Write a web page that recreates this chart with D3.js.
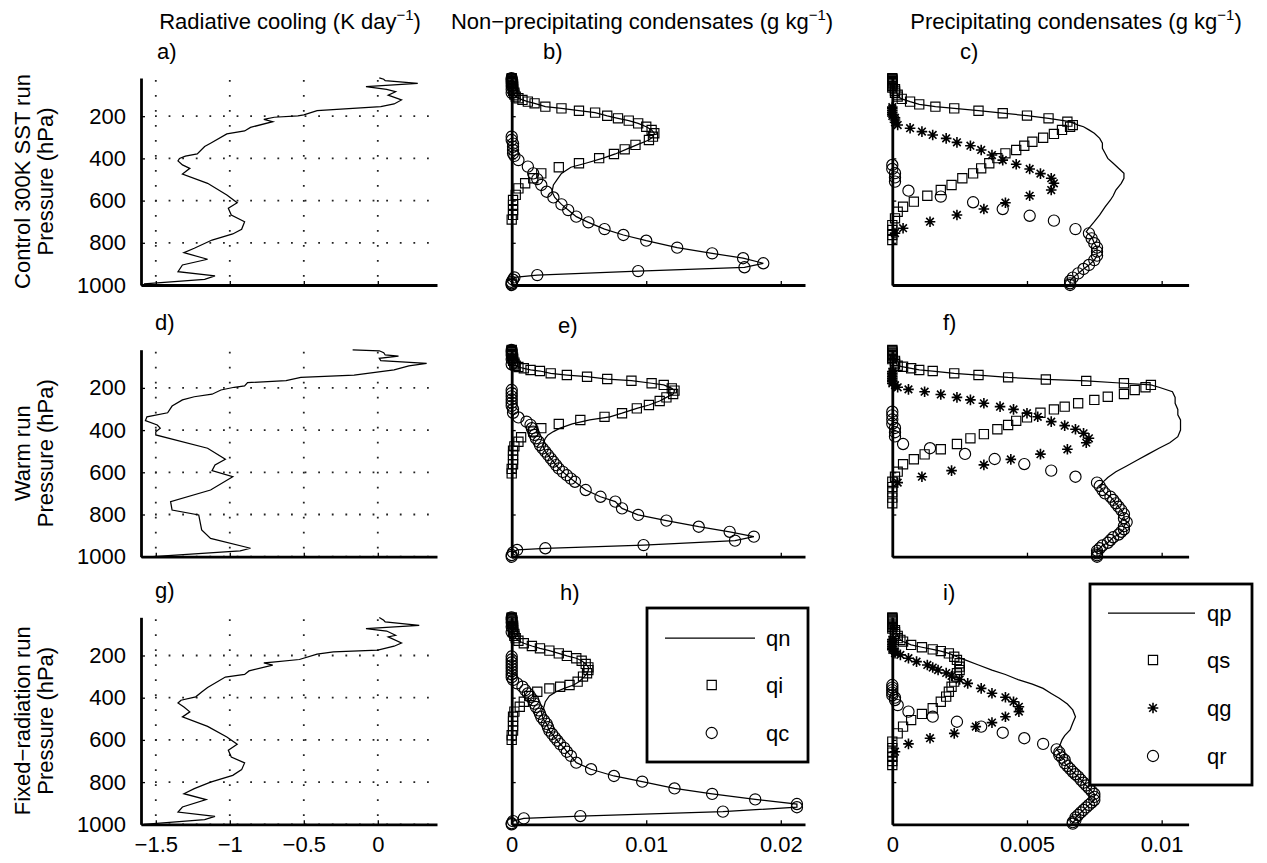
<!DOCTYPE html>
<html><head><meta charset="utf-8">
<script src="https://cdn.jsdelivr.net/npm/d3@7"></script>
<style>
body{margin:0;background:#fff;}
text{font-family:"Liberation Sans",Arial,Helvetica,sans-serif;fill:#000;}
</style></head><body>
<svg id="fig" width="1267" height="863"></svg>
<script>
// ---- axis ticks and labels ----
const pressureTicks = [200, 400, 600, 800, 1000];
const coolTicks = [-1.5, -1, -0.5, 0];
const coolTickLabels = ["\u22121.5", "\u22121", "\u22120.5", "0"];
const nonPrecipTicks = [0, 0.01, 0.02];
const nonPrecipTickLabels = ["0", "0.01", "0.02"];
const precipTicks = [0, 0.005, 0.01];
const precipTickLabels = ["0", "0.005", "0.01"];
const rowNames = ["Control 300K SST run", "Warm run", "Fixed\u2212radiation run"];
const panelLetters = [["a)", "b)", "c)"], ["d)", "e)", "f)"], ["g)", "h)", "i)"]];

// ---- profiles: [pressure hPa, value] ----
// radiative cooling (K/day)
const coolControl = [[18,0.01],[25,0.04],[32,0.05],[44,0.27],[60,-0.08],[73,0.06],[84,0.12],[100,0.07],[123,0.16],[142,0.11],[155,0.02],[167,-0.25],[174,-0.41],[194,-0.50],[199,-0.54],[205,-0.70],[215,-0.77],[226,-0.71],[253,-0.86],[270,-0.90],[284,-1.02],[328,-1.13],[344,-1.17],[379,-1.22],[389,-1.30],[400,-1.34],[412,-1.35],[431,-1.32],[447,-1.27],[474,-1.32],[518,-1.15],[573,-1.02],[610,-0.95],[636,-1.01],[668,-0.99],[700,-0.90],[736,-0.92],[758,-0.98],[787,-1.12],[826,-1.24],[847,-1.31],[878,-1.15],[905,-1.32],[937,-1.35],[957,-1.10],[973,-1.17],[995,-1.58]];
const coolWarm = [[20,-0.17],[24,0.01],[33,0.04],[44,0.05],[49,0.14],[60,0.01],[71,0.02],[84,0.33],[96,0.21],[115,0.11],[139,-0.16],[150,-0.52],[166,-0.62],[175,-0.88],[191,-0.90],[197,-0.97],[210,-1.06],[230,-1.12],[242,-1.24],[257,-1.32],[286,-1.39],[318,-1.42],[337,-1.56],[355,-1.57],[376,-1.49],[391,-1.47],[408,-1.50],[423,-1.50],[486,-1.15],[538,-1.03],[565,-1.10],[592,-1.12],[621,-0.98],[684,-1.13],[739,-1.40],[779,-1.39],[802,-1.21],[873,-1.19],[913,-1.13],[960,-0.86],[972,-0.93],[1000,-1.52]];
const coolFixed = [[20,0.01],[33,0.04],[41,0.05],[57,0.28],[73,-0.08],[84,0.06],[104,0.12],[112,0.07],[141,0.16],[156,0.11],[175,0.00],[183,-0.30],[194,-0.41],[219,-0.53],[231,-0.71],[235,-0.77],[246,-0.71],[273,-0.87],[290,-0.90],[302,-1.03],[352,-1.15],[373,-1.19],[396,-1.23],[412,-1.33],[425,-1.35],[444,-1.31],[467,-1.27],[491,-1.32],[536,-1.15],[586,-1.02],[621,-0.95],[649,-1.01],[681,-0.99],[709,-0.90],[741,-0.92],[768,-0.98],[800,-1.13],[831,-1.24],[855,-1.31],[883,-1.16],[918,-1.32],[942,-1.35],[962,-1.10],[978,-1.17],[1000,-1.58]];

// non-precipitating condensates (g/kg): qn total, qi ice, qc cloud water
const qnControl = [[20,0],[50,0.0001],[80,0.0001],[98,0.0002],[115,0.0005],[123,0.0008],[131,0.0012],[139,0.0017],[155,0.0025],[163,0.0037],[174,0.0050],[183,0.0062],[198,0.0071],[210,0.0079],[221,0.0087],[234,0.0094],[250,0.0100],[265,0.0104],[281,0.0106],[297,0.0105],[313,0.0102],[336,0.0093],[357,0.0085],[379,0.0077],[399,0.0068],[423,0.0055],[442,0.0044],[471,0.0037],[498,0.0034],[526,0.0031],[558,0.0030],[585,0.0032],[618,0.0037],[645,0.0042],[676,0.0048],[703,0.0057],[735,0.0069],[763,0.0083],[790,0.0100],[823,0.0123],[850,0.0149],[873,0.0172],[897,0.0187],[916,0.0173],[934,0.0094],[953,0.0019],[964,0.0002],[985,0],[1000,0]];
const qiControl = [[20,0],[23,0],[26,0],[30,0],[34,0],[39,0],[44,0],[50,0.0001],[57,0.0001],[64,0.0001],[72,0.0001],[80,0.0001],[89,0.0002],[98,0.0002],[107,0.0003],[115,0.0005],[123,0.0008],[131,0.0012],[139,0.0017],[155,0.0025],[163,0.0037],[174,0.0050],[183,0.0062],[198,0.0071],[210,0.0079],[221,0.0087],[234,0.0094],[250,0.0100],[265,0.0104],[281,0.0106],[297,0.0105],[313,0.0102],[336,0.0092],[357,0.0084],[379,0.0076],[399,0.0065],[423,0.0050],[442,0.0035],[471,0.0022],[494,0.0016],[518,0.0010],[542,0.0005],[573,0.0003],[597,0.0001],[620,0.0001],[645,0.0001],[668,0.0001],[690,0]];
const qcControl = [[20,0],[26,0],[34,0],[44,0],[57,0],[72,0],[89,0],[297,0],[313,0],[330,0.0001],[345,0.0001],[360,0.0001],[376,0.0001],[388,0.0002],[408,0.0005],[439,0.0012],[471,0.0016],[498,0.0019],[526,0.0022],[558,0.0026],[585,0.0031],[618,0.0037],[645,0.0042],[676,0.0048],[703,0.0057],[735,0.0069],[763,0.0083],[790,0.0100],[823,0.0123],[850,0.0149],[873,0.0172],[897,0.0187],[916,0.0173],[934,0.0094],[953,0.0019],[964,0.0002],[975,0.0001],[985,0],[992,0],[997,0],[1000,0]];

const qnWarm = [[20,0],[57,0.0001],[80,0.0002],[95,0.0003],[101,0.0005],[107,0.0009],[115,0.0014],[120,0.0021],[131,0.0029],[139,0.0041],[147,0.0056],[158,0.0071],[166,0.0089],[178,0.0104],[186,0.0113],[202,0.0119],[213,0.0121],[229,0.0120],[245,0.0115],[262,0.0110],[281,0.0102],[297,0.0093],[320,0.0082],[337,0.0073],[352,0.0058],[371,0.0045],[391,0.0036],[407,0.0031],[423,0.0027],[439,0.0025],[455,0.0024],[471,0.0023],[487,0.0024],[502,0.0025],[518,0.0027],[534,0.0029],[550,0.0031],[566,0.0033],[582,0.0035],[598,0.0038],[614,0.0041],[630,0.0044],[645,0.0047],[684,0.0055],[716,0.0066],[739,0.0077],[771,0.0082],[802,0.0094],[829,0.0115],[858,0.0139],[882,0.0162],[905,0.0180],[924,0.0166],[945,0.0098],[960,0.0025],[968,0.0004],[980,0.0001],[1000,0]];
const qiWarm = [[20,0],[23,0],[26,0],[30,0],[34,0],[39,0],[44,0],[50,0],[57,0.0001],[64,0.0001],[72,0.0001],[80,0.0002],[88,0.0002],[95,0.0003],[101,0.0005],[107,0.0009],[115,0.0014],[120,0.0021],[131,0.0029],[139,0.0041],[147,0.0056],[158,0.0071],[166,0.0089],[178,0.0104],[186,0.0113],[202,0.0119],[213,0.0121],[229,0.0120],[245,0.0115],[262,0.0110],[281,0.0102],[297,0.0093],[320,0.0082],[337,0.0069],[352,0.0051],[371,0.0035],[391,0.0022],[407,0.0016],[434,0.0007],[455,0.0005],[477,0.0002],[497,0.0001],[518,0.0001],[540,0.0001],[562,0.0001],[584,0],[605,0]];
const qcWarm = [[20,0],[30,0],[44,0],[64,0],[88,0],[210,0],[225,0],[240,0],[255,0],[270,0],[285,0],[300,0.0001],[318,0.0001],[340,0.0005],[360,0.0011],[375,0.0014],[391,0.0015],[407,0.0016],[423,0.0017],[439,0.0018],[455,0.0020],[471,0.0021],[487,0.0023],[502,0.0025],[518,0.0027],[534,0.0029],[550,0.0031],[566,0.0033],[582,0.0035],[598,0.0038],[614,0.0041],[630,0.0044],[645,0.0047],[684,0.0055],[716,0.0066],[739,0.0077],[771,0.0082],[802,0.0094],[829,0.0115],[858,0.0139],[882,0.0162],[905,0.0180],[924,0.0166],[945,0.0098],[960,0.0025],[968,0.0004],[980,0.0001],[992,0],[1000,0]];

const qnFixed = [[20,0],[57,0.0001],[98,0.0002],[118,0.0003],[130,0.0005],[142,0.0009],[155,0.0015],[166,0.0021],[177,0.0028],[190,0.0035],[202,0.0041],[213,0.0048],[225,0.0052],[240,0.0055],[256,0.0057],[269,0.0057],[284,0.0056],[300,0.0054],[324,0.0050],[340,0.0046],[356,0.0039],[372,0.0033],[392,0.0028],[419,0.0025],[443,0.0024],[466,0.0022],[492,0.0023],[508,0.0024],[524,0.0026],[540,0.0027],[556,0.0028],[572,0.0030],[588,0.0032],[604,0.0034],[620,0.0036],[638,0.0039],[656,0.0041],[676,0.0044],[708,0.0048],[739,0.0059],[771,0.0076],[798,0.0097],[830,0.0121],[856,0.0149],[882,0.0181],[904,0.0212],[919,0.0212],[940,0.0157],[961,0.0051],[972,0.0009],[985,0.0001],[1000,0]];
const qiFixed = [[20,0],[23,0],[26,0],[30,0],[34,0],[39,0],[44,0],[50,0],[57,0.0001],[64,0.0001],[72,0.0001],[80,0.0001],[89,0.0001],[98,0.0002],[107,0.0002],[118,0.0003],[130,0.0005],[142,0.0009],[155,0.0015],[166,0.0021],[177,0.0028],[190,0.0035],[202,0.0041],[213,0.0048],[225,0.0052],[240,0.0055],[256,0.0057],[269,0.0057],[284,0.0056],[300,0.0053],[324,0.0049],[340,0.0043],[348,0.0036],[356,0.0028],[372,0.0019],[392,0.0013],[419,0.0009],[443,0.0006],[466,0.0002],[490,0.0001],[512,0.0001],[534,0.0001],[556,0.0001],[578,0],[600,0]];
const qcFixed = [[20,0],[30,0],[44,0],[64,0],[89,0],[205,0],[219,0],[233,0],[247,0],[261,0],[275,0],[289,0],[303,0],[316,0.0001],[332,0.0004],[348,0.0008],[364,0.0010],[380,0.0012],[396,0.0014],[412,0.0016],[428,0.0017],[444,0.0018],[460,0.0020],[476,0.0021],[492,0.0022],[508,0.0024],[524,0.0026],[540,0.0027],[556,0.0028],[572,0.0030],[588,0.0032],[604,0.0034],[620,0.0036],[638,0.0039],[656,0.0041],[676,0.0044],[708,0.0048],[739,0.0059],[771,0.0076],[798,0.0097],[830,0.0121],[856,0.0149],[882,0.0181],[904,0.0212],[919,0.0212],[940,0.0157],[961,0.0051],[972,0.0009],[985,0.0001],[995,0],[1000,0]];

// precipitating condensates (g/kg): qp total, qs snow, qg graupel, qr rain
const qpControl = [[20,0],[72,0.0001],[98,0.0002],[107,0.0002],[118,0.00035],[131,0.00066],[144,0.0010],[155,0.0016],[163,0.0023],[174,0.0032],[186,0.0041],[197,0.0050],[210,0.0058],[226,0.0066],[242,0.0069],[250,0.0071],[265,0.0073],[281,0.0075],[305,0.0077],[328,0.0078],[352,0.0078],[376,0.0079],[400,0.0080],[423,0.0082],[447,0.0084],[471,0.0086],[494,0.0086],[518,0.0085],[550,0.0083],[577,0.0082],[597,0.0081],[630,0.0079],[668,0.0077],[700,0.0075],[730,0.0073],[747,0.0072],[771,0.0074],[802,0.0075],[823,0.0076],[842,0.0076],[861,0.0076],[882,0.0075],[905,0.0073],[924,0.0071],[945,0.0069],[965,0.0067],[981,0.0066],[992,0.0066],[1000,0.0066]];
const qsControl = [[20,0],[23,0],[26,0],[30,0],[34,0],[39,0],[44,0],[50,0],[57,0],[64,0],[72,0.0001],[80,0.0001],[89,0.0001],[98,0.0002],[107,0.0002],[118,0.00035],[131,0.00066],[144,0.0010],[155,0.0016],[163,0.0023],[174,0.0032],[186,0.0041],[197,0.0050],[210,0.0058],[226,0.0065],[242,0.0067],[250,0.0066],[265,0.0063],[284,0.0060],[302,0.0056],[321,0.0052],[340,0.0049],[360,0.0046],[376,0.0042],[399,0.0039],[423,0.0036],[447,0.0033],[471,0.0030],[494,0.0026],[526,0.0022],[550,0.0018],[577,0.0013],[605,0.0008],[629,0.0004],[653,0.0002],[684,0.0001],[716,0],[739,0],[763,0],[787,0]];
const qgControl = [[157,0],[165,0],[173,0],[181,0],[190,0],[199,0],[208,0.0001],[218,0.0001],[229,0.0001],[242,0.0002],[257,0.00066],[273,0.0011],[289,0.0015],[305,0.0020],[324,0.0024],[340,0.0029],[360,0.0033],[384,0.0037],[408,0.0041],[428,0.0046],[450,0.0051],[472,0.0055],[494,0.0059],[518,0.0060],[550,0.0059],[577,0.0051],[610,0.0042],[640,0.0034],[668,0.0024],[700,0.0014],[731,0.0004],[754,0.0001]];
const qrControl = [[431,0],[450,0],[470,0.0001],[490,0.0001],[510,0.0001],[553,0.0006],[581,0.0018],[608,0.0030],[640,0.0041],[672,0.0051],[695,0.0060],[735,0.0068],[755,0.0073],[779,0.0074],[802,0.0075],[823,0.0076],[842,0.0076],[861,0.0076],[882,0.0075],[905,0.0073],[924,0.0071],[945,0.0069],[965,0.0067],[981,0.0066],[992,0.0066],[1000,0.0066]];

const qpWarm = [[20,0],[72,0.0001],[95,0.0002],[100,0.0004],[107,0.0007],[115,0.0010],[120,0.0015],[131,0.0023],[139,0.0032],[150,0.0043],[160,0.0057],[167,0.0072],[178,0.0086],[186,0.0096],[197,0.0099],[218,0.0104],[245,0.0105],[273,0.0105],[302,0.0106],[328,0.0106],[352,0.0107],[376,0.0107],[400,0.0107],[431,0.0106],[460,0.0103],[486,0.0099],[514,0.0095],[542,0.0091],[570,0.0087],[597,0.0083],[625,0.0080],[649,0.0078],[665,0.0077],[684,0.0078],[700,0.0079],[716,0.0081],[731,0.0082],[747,0.0083],[763,0.0084],[779,0.0085],[798,0.0086],[818,0.0086],[836,0.0087],[855,0.0086],[870,0.0086],[882,0.0085],[895,0.0084],[908,0.0082],[921,0.0081],[934,0.0080],[947,0.0078],[960,0.0077],[972,0.0076],[984,0.0076],[993,0.0076],[1000,0.0076]];
const qsWarm = [[20,0],[24,0],[28,0],[33,0],[38,0],[44,0],[50,0],[57,0],[64,0],[72,0.0001],[80,0.0001],[88,0.0001],[95,0.0002],[100,0.0004],[107,0.0007],[115,0.0010],[120,0.0015],[131,0.0023],[139,0.0032],[150,0.0043],[160,0.0057],[167,0.0072],[178,0.0086],[186,0.0096],[197,0.0094],[210,0.0090],[229,0.0086],[242,0.0080],[257,0.0075],[273,0.0069],[289,0.0064],[302,0.0060],[318,0.0055],[340,0.0050],[356,0.0046],[376,0.0043],[396,0.0039],[419,0.0034],[439,0.0029],[466,0.0024],[491,0.0018],[515,0.0012],[538,0.0008],[562,0.0004],[597,0.0002],[621,0.0001],[645,0],[670,0],[695,0],[720,0],[747,0]];
const qgWarm = [[123,0],[131,0],[139,0],[147,0],[155,0],[163,0],[171,0],[179,0],[187,0.0001],[197,0.0002],[207,0.0006],[218,0.0012],[231,0.0018],[245,0.0024],[257,0.0029],[273,0.0034],[289,0.0040],[302,0.0045],[320,0.0050],[337,0.0054],[360,0.0059],[379,0.0064],[396,0.0068],[415,0.0071],[439,0.0073],[460,0.0072],[491,0.0065],[514,0.0055],[539,0.0044],[565,0.0034],[592,0.0022],[621,0.0011],[649,0.0002]];
const qrWarm = [[313,0],[330,0],[350,0],[370,0],[390,0.0001],[410,0.0001],[430,0.0001],[466,0.0004],[486,0.0014],[513,0.0027],[537,0.0038],[561,0.0049],[592,0.0059],[621,0.0068],[649,0.0076],[665,0.0077],[684,0.0078],[700,0.0079],[716,0.0081],[731,0.0082],[747,0.0083],[763,0.0084],[779,0.0085],[798,0.0086],[818,0.0086],[836,0.0087],[855,0.0086],[870,0.0086],[882,0.0085],[895,0.0084],[908,0.0082],[921,0.0081],[934,0.0080],[947,0.0078],[960,0.0077],[972,0.0076],[984,0.0076],[993,0.0076],[1000,0.0076]];

const qpFixed = [[20,0],[80,0.0001],[107,0.0002],[126,0.0003],[134,0.0004],[150,0.0007],[161,0.0011],[171,0.0015],[179,0.0018],[190,0.0021],[206,0.0024],[221,0.0027],[245,0.0032],[269,0.0037],[290,0.0042],[316,0.0047],[336,0.0052],[356,0.0056],[380,0.0059],[403,0.0062],[430,0.0065],[458,0.0067],[490,0.0068],[520,0.0067],[553,0.0066],[580,0.0064],[600,0.0063],[632,0.0062],[645,0.0061],[659,0.0062],[672,0.0062],[684,0.0063],[695,0.0064],[710,0.0064],[724,0.0065],[737,0.0066],[751,0.0067],[763,0.0068],[774,0.0069],[789,0.0070],[803,0.0071],[816,0.0072],[829,0.0073],[843,0.0074],[856,0.0075],[870,0.0075],[885,0.0075],[897,0.0074],[908,0.0073],[920,0.0072],[932,0.0071],[944,0.0070],[956,0.0069],[968,0.0068],[980,0.0068],[990,0.0067],[997,0.0067],[1000,0.0067]];
const qsFixed = [[20,0],[23,0],[26,0],[30,0],[34,0],[39,0],[44,0],[50,0],[57,0],[64,0],[72,0],[80,0.0001],[89,0.0001],[98,0.0001],[107,0.0002],[118,0.0002],[126,0.0003],[134,0.0004],[150,0.0007],[161,0.0011],[171,0.0015],[179,0.0018],[190,0.0021],[206,0.0023],[221,0.0024],[237,0.0025],[253,0.0025],[269,0.0025],[284,0.0024],[300,0.0024],[324,0.0023],[348,0.0022],[372,0.0021],[395,0.0020],[419,0.0018],[450,0.0015],[477,0.0011],[506,0.0007],[537,0.0004],[569,0.0002],[608,0],[639,0],[660,0],[680,0],[700,0],[719,0]];
const qgFixed = [[125,0],[133,0],[141,0],[149,0],[157,0],[165,0],[173,0],[181,0.0001],[189,0.0001],[197,0.0003],[213,0.0006],[229,0.0009],[245,0.0013],[257,0.0015],[269,0.0017],[283,0.0020],[297,0.0022],[314,0.0025],[332,0.0028],[356,0.0033],[379,0.0037],[398,0.0042],[419,0.0045],[443,0.0047],[466,0.0047],[490,0.0042],[518,0.0037],[537,0.0031],[569,0.0023],[592,0.0014],[619,0.0006],[656,0.0001]];
const qrFixed = [[340,0],[352,0],[364,0],[376,0],[388,0],[400,0.0001],[411,0.0001],[435,0.0002],[466,0.0006],[490,0.0015],[514,0.0024],[537,0.0033],[566,0.0041],[592,0.0049],[619,0.0056],[645,0.0061],[659,0.0062],[672,0.0062],[684,0.0063],[695,0.0064],[710,0.0064],[724,0.0065],[737,0.0066],[751,0.0067],[763,0.0068],[774,0.0069],[789,0.0070],[803,0.0071],[816,0.0072],[829,0.0073],[843,0.0074],[856,0.0075],[870,0.0075],[885,0.0075],[897,0.0074],[908,0.0073],[920,0.0072],[932,0.0071],[944,0.0070],[956,0.0069],[968,0.0068],[980,0.0068],[990,0.0067],[997,0.0067]];

const runs = [
  {cool: coolControl, qn: qnControl, qi: qiControl, qc: qcControl, qp: qpControl, qs: qsControl, qg: qgControl, qr: qrControl},
  {cool: coolWarm,    qn: qnWarm,    qi: qiWarm,    qc: qcWarm,    qp: qpWarm,    qs: qsWarm,    qg: qgWarm,    qr: qrWarm},
  {cool: coolFixed,   qn: qnFixed,   qi: qiFixed,   qc: qcFixed,   qp: qpFixed,   qs: qsFixed,   qg: qgFixed,   qr: qrFixed}
];

// ---- layout ----
const FONT = 22;
const rowBottom = [285, 556.7, 824.3];
const rowHeight = 207;
const pressureDomain = [19, 1000];
const colRange = [[141, 437], [511.7, 805], [892.3, 1188.6]];
const xDomains = [[-1.6, 0.4], [0, 0.0218], [0, 0.011]];
const colTicks = [coolTicks, nonPrecipTicks, precipTicks];
const colTickLabels = [coolTickLabels, nonPrecipTickLabels, precipTickLabels];
const letterPos = [[[157, 59], [543, 59], [960, 59]],
                   [[155, 330], [558, 333], [943, 330]],
                   [[155, 598], [560, 600], [943, 600]]];

const svg = d3.select("#fig");
svg.append("rect").attr("width", 1267).attr("height", 863).attr("fill", "#fff");

// marker shapes
const markerPath = {
  square: "M-4.6,-4.6h9.2v9.2h-9.2z",
  circle: "M5.6,0A5.6,5.6 0 1 1 -5.6,0A5.6,5.6 0 1 1 5.6,0Z",
  star: "M-5.3,0H5.3M0,-5.3V5.3M-3.8,-3.8L3.8,3.8M-3.8,3.8L3.8,-3.8"
};
function drawMarkers(g, data, x, y, shape) {
  g.append("g").selectAll("path").data(data).join("path")
    .attr("transform", d => `translate(${x(d[1])},${y(d[0])})`)
    .attr("d", markerPath[shape])
    .attr("fill", "none").attr("stroke", "#000")
    .attr("stroke-width", shape === "star" ? 1.6 : 1.15);
}
function drawLine(g, data, x, y) {
  g.append("path").datum(data)
    .attr("d", d3.line().x(d => x(d[1])).y(d => y(d[0])))
    .attr("fill", "none").attr("stroke", "#000").attr("stroke-width", 1.25);
}

// ---- column titles ----
function titleText(cx, main) {
  const t = svg.append("text").attr("x", cx).attr("y", 29).attr("text-anchor", "middle")
    .attr("font-size", FONT);
  t.append("tspan").text(main);
  t.append("tspan").attr("dy", -9).attr("font-size", 15).text("\u22121");
  t.append("tspan").attr("dy", 9).text(")");
}
titleText(290, "Radiative cooling (K day");
titleText(642, "Non\u2212precipitating condensates (g kg");
titleText(1076, "Precipitating condensates (g kg");

runs.forEach((run, r) => {
  const B = rowBottom[r];
  const y = d3.scaleLinear().domain(pressureDomain).range([B - rowHeight, B]);
  const cy = B - rowHeight / 2;

  // row labels
  svg.append("text").attr("transform", `translate(30,${cy}) rotate(-90)`)
    .attr("text-anchor", "middle").attr("font-size", FONT).text(rowNames[r]);
  svg.append("text").attr("transform", `translate(53,${cy}) rotate(-90)`)
    .attr("text-anchor", "middle").attr("font-size", FONT).text("Pressure (hPa)");

  for (let c = 0; c < 3; c++) {
    const x = d3.scaleLinear().domain(xDomains[c]).range(colRange[c]);
    const g = svg.append("g");

    // dotted grid in the radiative cooling column
    if (c === 0) {
      const grid = g.append("g").attr("stroke", "#222").attr("stroke-width", 1.8);
      grid.selectAll("line.v").data(coolTicks).join("line")
        .attr("x1", d => x(d)).attr("x2", d => x(d))
        .attr("y1", B - rowHeight + 2).attr("y2", B)
        .attr("stroke-dasharray", "1.8,13.2");
      grid.selectAll("line.h").data(pressureTicks).join("line")
        .attr("x1", colRange[0][0] + 14).attr("x2", colRange[0][1])
        .attr("y1", d => y(d)).attr("y2", d => y(d))
        .attr("stroke-dasharray", "1.8,11.8");
    }

    // data
    if (c === 0) {
      drawLine(g, run.cool, x, y);
    } else if (c === 1) {
      drawLine(g, run.qn, x, y);
      drawMarkers(g, run.qi, x, y, "square");
      drawMarkers(g, run.qc, x, y, "circle");
    } else {
      drawLine(g, run.qp, x, y);
      drawMarkers(g, run.qs, x, y, "square");
      drawMarkers(g, run.qg, x, y, "star");
      drawMarkers(g, run.qr, x, y, "circle");
    }

    // axes
    const yAxis = d3.axisLeft(y).tickValues(pressureTicks).tickSize(-4).tickSizeOuter(0)
      .tickPadding(15).tickFormat(c === 0 ? d3.format("d") : () => "");
    const ya = g.append("g").attr("transform", `translate(${colRange[c][0]},0)`).call(yAxis);
    const labels = colTickLabels[c];
    const xAxis = d3.axisBottom(x).tickValues(colTicks[c]).tickSize(-4).tickSizeOuter(0)
      .tickPadding(12).tickFormat((d, i) => r === 2 ? labels[i] : "");
    const xa = g.append("g").attr("transform", `translate(0,${B})`).call(xAxis);
    [ya, xa].forEach(a => {
      a.select(".domain").attr("stroke", "#000").attr("stroke-width", 2.8);
      a.selectAll(".tick line").attr("stroke", "#000").attr("stroke-width", 1.3);
      a.selectAll("text").attr("font-size", FONT)
        .attr("font-family", "'Liberation Sans',Arial,Helvetica,sans-serif").attr("fill", "#000");
    });

    // panel letter
    svg.append("text").attr("x", letterPos[r][c][0]).attr("y", letterPos[r][c][1])
      .attr("font-size", FONT).text(panelLetters[r][c]);
  }
});

// ---- legends ----
function legend(box, lineSeg, entries) {
  const g = svg.append("g");
  g.append("rect").attr("x", box[0]).attr("y", box[1]).attr("width", box[2]).attr("height", box[3])
    .attr("fill", "#fff").attr("stroke", "#000").attr("stroke-width", 2.8);
  entries.forEach(e => {
    if (e.shape === "line") {
      g.append("line").attr("x1", lineSeg[0]).attr("x2", lineSeg[1]).attr("y1", e.y).attr("y2", e.y)
        .attr("stroke", "#000").attr("stroke-width", 1.25);
    } else {
      g.append("path").attr("transform", `translate(${e.mx},${e.y})`).attr("d", markerPath[e.shape])
        .attr("fill", "none").attr("stroke", "#000").attr("stroke-width", e.shape === "star" ? 1.6 : 1.15);
    }
    g.append("text").attr("x", e.tx).attr("y", e.y).attr("dy", "0.35em")
      .attr("font-size", FONT).text(e.label);
  });
}
legend([647, 608, 161, 154], [665, 755], [
  {shape: "line", y: 638, tx: 766, label: "qn"},
  {shape: "square", mx: 711.7, y: 685, tx: 766, label: "qi"},
  {shape: "circle", mx: 711.7, y: 733, tx: 766, label: "qc"}
]);
legend([1090, 584, 162, 201], [1108, 1195], [
  {shape: "line", y: 613, tx: 1207, label: "qp"},
  {shape: "square", mx: 1153, y: 660, tx: 1207, label: "qs"},
  {shape: "star", mx: 1153, y: 708, tx: 1207, label: "qg"},
  {shape: "circle", mx: 1153, y: 756, tx: 1207, label: "qr"}
]);
</script>
</body></html>
